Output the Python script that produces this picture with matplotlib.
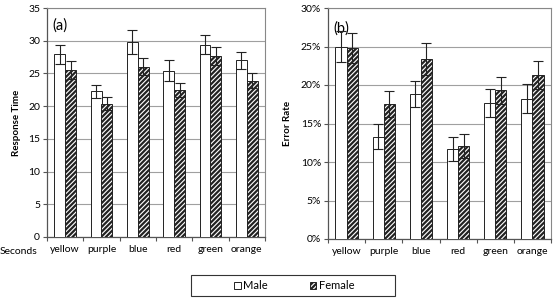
import numpy as np
import matplotlib
matplotlib.use("Agg")
import matplotlib.pyplot as plt
from matplotlib.patches import Patch, Rectangle
from matplotlib.ticker import FuncFormatter

plt.rcParams['font.family'] = ['Lato', 'DejaVu Sans']
plt.rcParams['hatch.linewidth'] = 1.6
plt.rcParams['hatch.color'] = '#222222'

colors = ['yellow', 'purple', 'blue', 'red', 'green', 'orange']

# response time (seconds)
rt_male = [27.9, 22.3, 29.8, 25.4, 29.4, 27.0]
rt_male_err = [1.4, 1.0, 1.8, 1.6, 1.5, 1.3]
rt_female = [25.5, 20.4, 26.0, 22.5, 27.7, 23.9]
rt_female_err = [1.4, 1.0, 1.3, 1.1, 1.4, 1.1]

# error rate (%)
er_male = [25.0, 13.3, 18.8, 11.7, 17.7, 18.2]
er_male_err = [2.0, 1.6, 1.7, 1.6, 1.8, 1.9]
er_female = [24.8, 17.5, 23.4, 12.1, 19.3, 21.3]
er_female_err = [1.9, 1.7, 2.1, 1.6, 1.8, 1.8]

fig = plt.figure(figsize=(5.54, 3.05), dpi=100)
W, H = 554.0, 305.0
ax1 = fig.add_axes([47 / W, 1 - 237 / H, 218 / W, 229 / H])
ax2 = fig.add_axes([328 / W, 1 - 239 / H, 223 / W, 231 / H])

x = np.arange(len(colors))
bw = 0.30
HATCH = '///////'


def draw(ax, male, male_err, female, female_err, ymax, step):
    ax.bar(x - bw / 2, male, bw, color='white', edgecolor='#222222', linewidth=0.7, zorder=3)
    ax.bar(x + bw / 2, female, bw, color='white', edgecolor='#222222', hatch=HATCH,
           linewidth=0.7, zorder=3)
    ax.errorbar(x - bw / 2, male, yerr=male_err, fmt='none', ecolor='#222222',
                elinewidth=0.8, capsize=3.5, capthick=0.8, zorder=4)
    ax.errorbar(x + bw / 2, female, yerr=female_err, fmt='none', ecolor='#222222',
                elinewidth=0.8, capsize=3.5, capthick=0.8, zorder=4)
    ax.set_xlim(-0.5, len(colors) - 0.5)
    ax.set_ylim(0, ymax)
    ax.set_yticks(np.arange(0, ymax + 0.01, step))
    ax.yaxis.grid(True, color='#a0a0a0', linewidth=0.8, zorder=0)
    ax.set_xticks(x)
    ax.set_xticklabels(colors, fontsize=7.5)
    ax.set_xticks(np.arange(-0.5, len(colors)), minor=True)
    ax.tick_params(axis='x', which='major', length=0, pad=6)
    ax.tick_params(axis='x', which='minor', length=3, color='#555555', width=0.8)
    ax.tick_params(axis='y', length=3, color='#555555', width=0.8, labelsize=7.5, pad=2)
    for s in ['top', 'right']:
        ax.spines[s].set_color('#888888')
        ax.spines[s].set_linewidth(0.8)
    for s in ['left', 'bottom']:
        ax.spines[s].set_color('#555555')
        ax.spines[s].set_linewidth(0.9)


draw(ax1, rt_male, rt_male_err, rt_female, rt_female_err, 35, 5)
draw(ax2, er_male, er_male_err, er_female, er_female_err, 30, 5)
ax2.yaxis.set_major_formatter(FuncFormatter(lambda v, p: '%d%%' % v))

ax1.text(0.025, 0.955, '(a)', transform=ax1.transAxes, fontsize=10.5, va='top')
ax2.text(0.025, 0.94, '(b)', transform=ax2.transAxes, fontsize=10.5, va='top')

ax1.set_ylabel('Response Time', fontsize=7, fontweight='bold', labelpad=5)
ax2.set_ylabel('Error Rate', fontsize=7, fontweight='bold', labelpad=6)

fig.text(37 / W, 1 - 252 / H, 'Seconds', fontsize=7.5, ha='right', va='center')

# legend frame drawn separately so it can be wider than its entries
fig.patches.append(Rectangle((191 / W, 1 - 296 / H), 204 / W, 21 / H,
                             transform=fig.transFigure, facecolor='white',
                             edgecolor='#333333', linewidth=0.8))
handles = [Patch(facecolor='white', edgecolor='#222222', linewidth=0.7, label='Male'),
           Patch(facecolor='white', edgecolor='#222222', hatch=HATCH, linewidth=0.7,
                 label='Female')]
fig.legend(handles=handles, loc='center', bbox_to_anchor=(294 / W, 1 - 285.5 / H),
           ncol=2, fontsize=8, frameon=False, handlelength=0.6,
           handleheight=0.6, handletextpad=0.2, columnspacing=3.8,
           borderpad=0.2, borderaxespad=0)

fig.savefig('out.png', dpi=100)
